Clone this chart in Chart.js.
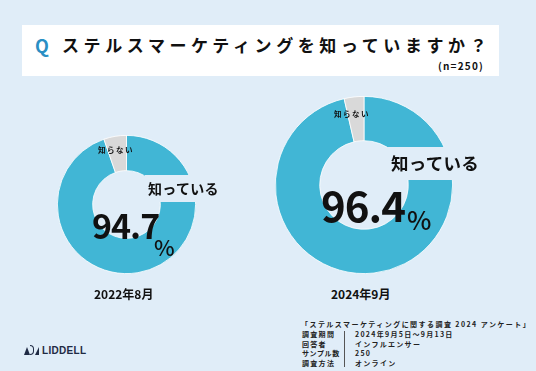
<!DOCTYPE html>
<html><head><meta charset="utf-8">
<script src="https://cdn.jsdelivr.net/npm/chart.js@4"></script>
<style>
html,body{margin:0;padding:0;}
body{width:536px;height:371px;background:#e0edf8;position:relative;overflow:hidden;font-family:"Noto Sans CJK JP","Noto Sans",sans-serif;color:#111;}
.abs{position:absolute;white-space:nowrap;line-height:1;}
#titlebox{position:absolute;left:22px;top:25px;width:477px;height:51px;background:#fff;}
canvas{position:absolute;}
.lbl{position:absolute;background:#e0edf8;font-weight:700;line-height:1;white-space:nowrap;}
.foot{font-size:7px;font-weight:700;letter-spacing:1.3px;color:#222;}
</style></head><body>
<div id="titlebox"></div>
<div class="abs" style="left:35px;top:36px;font-size:18px;font-weight:700;color:#2a8fc4;">Q</div>
<div class="abs" style="left:62px;top:36px;font-size:17px;font-weight:700;letter-spacing:4.6px;">ステルスマーケティングを知っていますか？</div>
<div class="abs" style="left:438px;top:61px;font-size:10px;font-weight:700;letter-spacing:1.2px;">(n=250)</div>

<canvas id="c1" width="139" height="139" style="left:57px;top:135px;width:139px;height:139px;"></canvas>
<canvas id="c2" width="178" height="178" style="left:275px;top:96px;width:178px;height:178px;"></canvas>

<div class="lbl" style="left:145px;top:175px;width:72px;height:27px;"></div>
<div class="abs" style="left:148px;top:181px;font-size:14px;font-weight:700;letter-spacing:0.3px;">知っている</div>
<div class="abs" style="left:98px;top:146px;font-size:7.5px;font-weight:700;letter-spacing:1.5px;">知らない</div>
<div class="abs" style="left:92px;top:208px;font-size:34px;font-weight:700;letter-spacing:-1px;">94.7</div>
<div class="abs" style="left:154px;top:235px;font-size:22px;font-weight:500;">%</div>

<div class="lbl" style="left:387px;top:147px;width:90px;height:33px;"></div>
<div class="abs" style="left:391px;top:154px;font-size:17.5px;font-weight:700;letter-spacing:0.3px;">知っている</div>
<div class="abs" style="left:334px;top:110px;font-size:7.5px;font-weight:700;letter-spacing:1.5px;">知らない</div>
<div class="abs" style="left:321px;top:183px;font-size:42px;font-weight:700;letter-spacing:-1px;">96.4</div>
<div class="abs" style="left:407px;top:206px;font-size:26px;font-weight:500;">%</div>

<div class="abs" id="y1" style="left:94px;top:288px;font-size:12px;font-weight:700;"></div>
<div class="abs" id="y2" style="left:331px;top:288px;font-size:12px;font-weight:700;"></div>

<div class="abs foot" style="left:301px;top:321px;letter-spacing:1.45px;">「ステルスマーケティングに関する調査 2024 アンケート」</div>
<div style="position:absolute;left:344px;top:331px;width:1px;height:36px;background:#555;"></div>
<div class="abs foot" style="left:302px;top:331px;">調査期間</div>
<div class="abs foot" style="left:302px;top:341px;">回答者</div>
<div class="abs foot" style="left:302px;top:350px;letter-spacing:0.6px;">サンプル数</div>
<div class="abs foot" style="left:302px;top:360px;">調査方法</div>
<div class="abs foot" style="left:355px;top:331px;">2024年9月5日～9月13日</div>
<div class="abs foot" style="left:355px;top:341px;">インフルエンサー</div>
<div class="abs foot" style="left:355px;top:350px;">250</div>
<div class="abs foot" style="left:355px;top:360px;">オンライン</div>

<div class="abs" style="left:24px;top:345px;font-size:10px;font-weight:700;color:#1f2a44;font-family:'Liberation Sans',sans-serif;letter-spacing:0.3px;">
<span style="display:inline-block;width:0;height:0;border-left:3px solid transparent;border-right:3px solid transparent;border-bottom:8px solid #1f2a44;vertical-align:-1px;"></span><span style="display:inline-block;width:3px;height:8px;border:1.3px solid #1f2a44;border-left:none;border-radius:0 4px 4px 0;vertical-align:-1px;margin-right:1px;"></span><span style="display:inline-block;width:0;height:0;border-left:4px solid transparent;border-bottom:8px solid #1f2a44;vertical-align:-1px;margin-right:3px;"></span>LIDDELL</div>

<script>
const categories = ['知っている', '知らない'];
const periods = ['2022年8月', '2024年9月'];
const values2022 = [94.7, 5.3];
const values2024 = [96.4, 3.6];
const colors = ['#41b6d5', '#d9d9d9'];

document.getElementById('y1').textContent = periods[0];
document.getElementById('y2').textContent = periods[1];

function makeDonut(id, values, cutout) {
  new Chart(document.getElementById(id), {
    type: 'doughnut',
    data: {
      labels: categories,
      datasets: [{ data: values, backgroundColor: colors, borderColor: '#ffffff', borderWidth: 0.8 }]
    },
    options: {
      responsive: false,
      animation: false,
      cutout: cutout,
      rotation: 0,
      layout: { padding: 0 },
      plugins: { legend: { display: false }, tooltip: { enabled: false } }
    }
  });
}
makeDonut('c1', values2022, '49%');
makeDonut('c2', values2024, '50%');
</script>
</body></html>
